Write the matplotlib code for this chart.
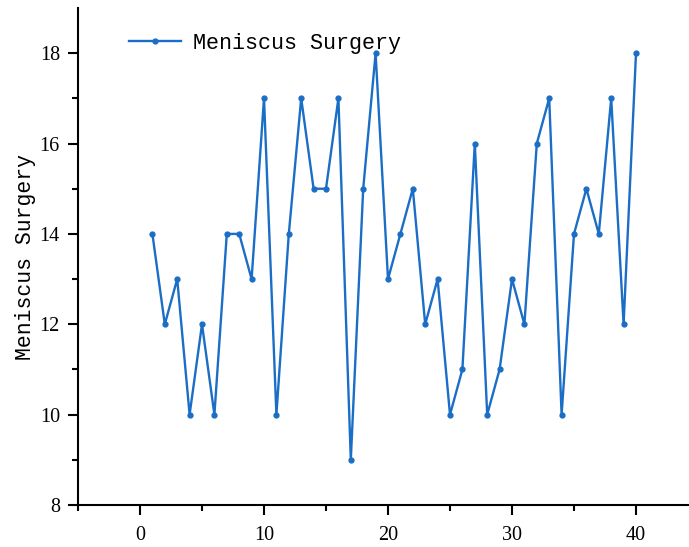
import numpy as np
import matplotlib
matplotlib.use("Agg")
import matplotlib.pyplot as plt

# Meniscus Surgery values per case
case_no = list(range(1, 41))
meniscus = [14, 12, 13, 10, 12, 10, 14, 14, 13, 17,
            10, 14, 17, 15, 15, 17, 9, 15, 18, 13,
            14, 15, 12, 13, 10, 11, 16, 10, 11, 13,
            12, 16, 17, 10, 14, 15, 14, 17, 12, 18]

label_font = ['Liberation Mono', 'DejaVu Sans Mono']
tick_font = ['Liberation Serif', 'DejaVu Serif']
line_col = '#1b6ec6'

fig = plt.figure(figsize=(6.89, 5.47), dpi=100)
ax = fig.add_axes([78/689, 42/547, 620/689, 497/547])

ax.plot(case_no, meniscus, color=line_col, lw=1.7, marker='o', markersize=3.5,
        label='Meniscus Surgery')

ax.set_xlim(-5, 45)
ax.set_ylim(8, 19)
ax.set_xticks(np.arange(0, 41, 10))
ax.set_xticks(np.arange(-5, 46, 5), minor=True)
ax.set_yticks(np.arange(8, 19, 2))
ax.set_yticks(np.arange(9, 19, 2), minor=True)

for s in ['top', 'right']:
    ax.spines[s].set_visible(False)
for s in ['left', 'bottom']:
    ax.spines[s].set_linewidth(1.5)

ax.tick_params(which='major', direction='out', length=7, width=1.5)
ax.tick_params(which='minor', direction='out', length=4.5, width=1.5)
ax.tick_params(axis='x', which='major', pad=8)
ax.tick_params(axis='y', which='major', pad=6)
for lab in ax.get_xticklabels() + ax.get_yticklabels():
    lab.set_family(tick_font)
    lab.set_fontsize(14.5)

ax.set_ylabel('Meniscus Surgery', fontsize=15.5, family=label_font, labelpad=3)

leg = ax.legend(loc='upper left', frameon=False, prop={'family': label_font, 'size': 15.7},
                handlelength=2.4, handletextpad=0.55, bbox_to_anchor=(0.05, 0.99))

fig.savefig('out.png', dpi=100)
